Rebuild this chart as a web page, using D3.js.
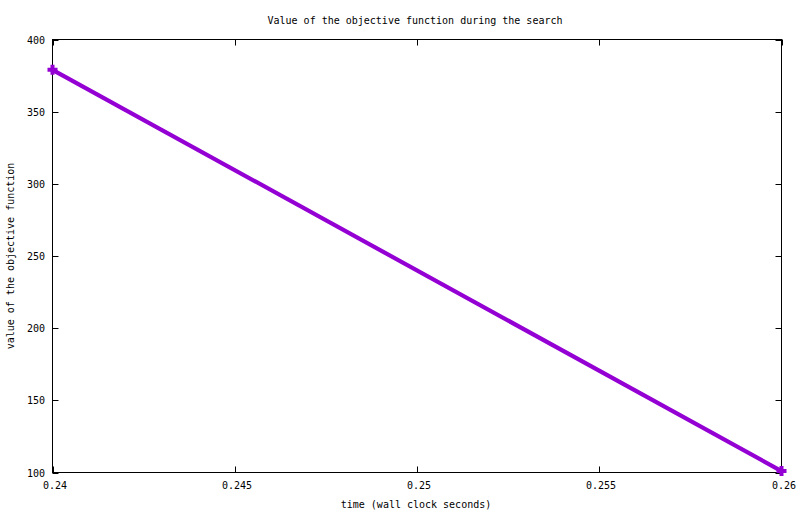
<!DOCTYPE html>
<html>
<head>
<meta charset="utf-8">
<script src="https://cdn.jsdelivr.net/npm/d3@7"></script>
<style>
  body { margin: 0; background: #fff; }
  text { font-family: "DejaVu Sans Mono", monospace; font-size: 10px; fill: #000; }
</style>
</head>
<body>
<svg id="chart" width="800" height="514"></svg>
<script>
const times = [0.24, 0.26];
const values = [379, 101];
const xTicks = [0.24, 0.245, 0.25, 0.255, 0.26];
const xTickLabels = ["0.24", "0.245", "0.25", "0.255", "0.26"];
const yTicks = [100, 150, 200, 250, 300, 350, 400];
const titleText = "Value of the objective function during the search";
const xLabel = "time (wall clock seconds)";
const yLabel = "value of the objective function";

const svg = d3.select("#chart");
const L = 52.5, R = 781.5, T = 39.5, B = 472.5;
const x = d3.scaleLinear().domain([0.24, 0.26]).range([L, R]);
const y = d3.scaleLinear().domain([100, 400]).range([B, T]);
const color = "#9400D3";

// frame
svg.append("rect").attr("x", L).attr("y", T).attr("width", R - L).attr("height", B - T)
  .attr("fill", "none").attr("stroke", "#000").attr("stroke-width", 1);

// x ticks (bottom and mirrored top)
const gx = svg.append("g");
xTicks.forEach((t, i) => {
  const px = Math.round(x(t)) + 0.5;
  gx.append("line").attr("x1", px).attr("x2", px).attr("y1", B).attr("y2", B - 6).attr("stroke", "#000");
  gx.append("line").attr("x1", px).attr("x2", px).attr("y1", T).attr("y2", T + 6).attr("stroke", "#000");
  gx.append("text").attr("x", px + 1.5).attr("y", 489).attr("text-anchor", "middle").text(xTickLabels[i]);
});

// y ticks (left and mirrored right)
const gy = svg.append("g");
yTicks.forEach(t => {
  const py = Math.round(y(t)) + 0.5;
  gy.append("line").attr("x1", L).attr("x2", L + 6).attr("y1", py).attr("y2", py).attr("stroke", "#000");
  gy.append("line").attr("x1", R).attr("x2", R - 6).attr("y1", py).attr("y2", py).attr("stroke", "#000");
  gy.append("text").attr("x", 45).attr("y", py + 3.5).attr("text-anchor", "end").text(t);
});

// title and axis labels
svg.append("text").attr("x", 415).attr("y", 24).attr("text-anchor", "middle").text(titleText);
svg.append("text").attr("x", 416).attr("y", 508).attr("text-anchor", "middle").text(xLabel);
svg.append("text").attr("transform", "translate(14,256) rotate(-90)").attr("text-anchor", "middle").text(yLabel);

// line
const data = times.map((t, i) => ({ t, v: values[i] }));
svg.append("path").datum(data)
  .attr("d", d3.line().x(d => x(d.t)).y(d => y(d.v)))
  .attr("fill", "none").attr("stroke", color).attr("stroke-width", 4.2);

// plus markers
svg.selectAll(".pt").data(data).enter().append("path")
  .attr("class", "pt")
  .attr("transform", d => `translate(${x(d.t)},${y(d.v)})`)
  .attr("d", d3.symbol().type({
    draw(ctx, size) {
      const r = 5, w = 2;
      ctx.moveTo(-r, -w); ctx.lineTo(-w, -w); ctx.lineTo(-w, -r); ctx.lineTo(w, -r);
      ctx.lineTo(w, -w); ctx.lineTo(r, -w); ctx.lineTo(r, w); ctx.lineTo(w, w);
      ctx.lineTo(w, r); ctx.lineTo(-w, r); ctx.lineTo(-w, w); ctx.lineTo(-r, w); ctx.closePath();
    }
  }).size(60))
  .attr("fill", color);
</script>
</body>
</html>
